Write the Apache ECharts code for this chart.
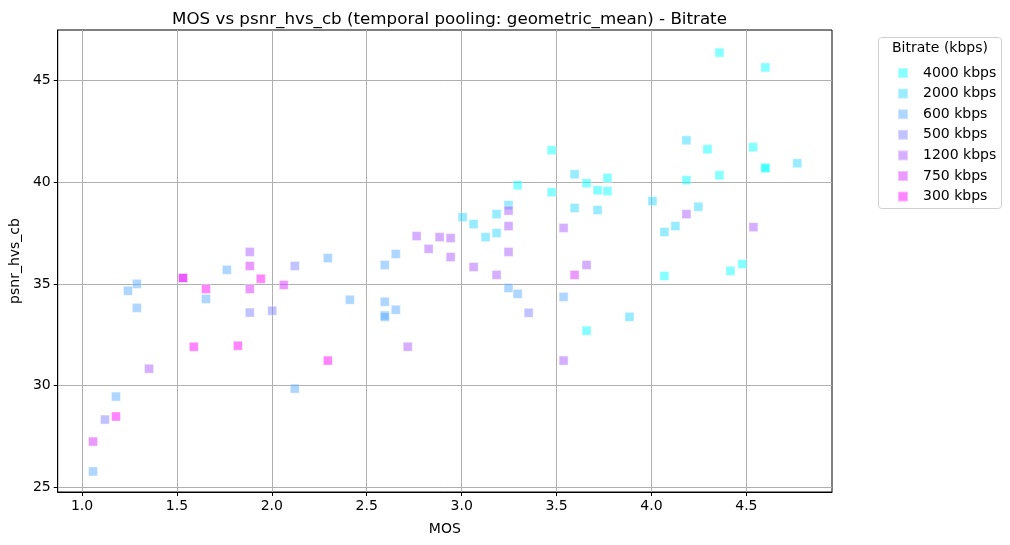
<!DOCTYPE html>
<html><head><meta charset="utf-8">
<script src="https://cdn.jsdelivr.net/npm/echarts@6/dist/echarts.min.js"></script>
<style>html,body{margin:0;padding:0;background:#fff}#c{width:1010px;height:545px}</style>
</head><body><div id="c"></div>
<script>
const seriesNames = ['4000 kbps','2000 kbps','600 kbps','500 kbps','1200 kbps','750 kbps','300 kbps'];
const s4000 = [[3.474,41.57],[3.474,39.51],[3.295,39.85],[3.658,39.95],[3.768,40.21],[3.716,39.6],[3.768,39.56],[4.358,46.37],[4.6,45.64],[4.295,41.62],[4.535,41.72],[4.6,40.72],[4.6,40.68],[4.358,40.34],[4.184,40.10],[4.479,35.98],[4.416,35.64],[4.068,35.39],[3.658,32.7]];
const s2000 = [[3.595,40.39],[4.184,42.06],[4.768,40.93],[3.247,38.87],[3.595,38.73],[3.716,38.63],[3.005,38.28],[3.184,38.43],[3.063,37.94],[3.184,37.5],[3.126,37.3],[4.005,39.07],[4.247,38.79],[4.126,37.84],[4.068,37.55],[3.884,33.38]];
const s600 = [[1.058,25.78],[1.179,29.46],[2.121,29.85],[1.289,35.0],[1.242,34.66],[1.289,33.82],[1.653,34.26],[1.763,35.69],[2.295,36.27],[2.411,34.22],[2.653,36.47],[2.595,35.93],[3.247,34.8],[3.295,34.51],[3.537,34.36],[2.595,34.12],[2.653,33.73],[2.595,33.45],[2.595,33.38]];
const s500 = [[1.121,28.33],[1.884,33.59],[2.002,33.68],[2.121,35.88],[3.353,33.58]];
const s1200 = [[1.884,36.57],[1.532,35.29],[1.353,30.83],[2.763,37.35],[2.884,37.30],[2.942,37.25],[2.826,36.72],[2.942,36.32],[3.247,36.57],[3.063,35.83],[3.658,35.93],[3.184,35.44],[3.247,37.84],[3.537,37.75],[3.247,38.6],[2.716,31.91],[3.537,31.23],[4.184,38.43],[4.537,37.79]];
const s750 = [[1.058,27.25],[1.884,35.88],[1.884,34.75],[2.063,34.95],[3.595,35.44]];
const s300 = [[1.532,35.29],[1.653,34.75],[1.942,35.25],[1.589,31.91],[1.821,31.96],[2.295,31.23],[1.179,28.48]];
const xTicks = [1.0,1.5,2.0,2.5,3.0,3.5,4.0,4.5];
const yTicks = [25,30,35,40,45];

const allData = [s4000,s2000,s600,s500,s1200,s750,s300];
const colors = ['rgba(0,255,255,0.6)','rgba(42,213,255,0.6)','rgba(85,170,255,0.6)','rgba(128,128,255,0.6)','rgba(170,85,255,0.6)','rgba(213,42,255,0.6)','rgba(255,0,255,0.6)'];
const FONT = 'DejaVu Sans';
const chart = echarts.init(document.getElementById('c'));
chart.setOption({
  animation:false,
  textStyle:{fontFamily:FONT},
  title:{text:'MOS vs psnr_hvs_cb (temporal pooling: geometric_mean) - Bitrate',left:444.5,textAlign:'center',top:6,
    textStyle:{fontFamily:FONT,fontWeight:'normal',fontSize:16.7,color:'#000'}},
  grid:{left:57,right:178,top:30,bottom:53,show:true,borderColor:'#000',borderWidth:1,backgroundColor:'transparent'},
  xAxis:{type:'value',min:0.872,max:4.951,
    name:'MOS',nameLocation:'middle',nameGap:30,nameTextStyle:{fontFamily:FONT,fontSize:14,color:'#000'},
    axisLine:{show:true,lineStyle:{color:'#000'}},
    axisTick:{show:true,length:4,lineStyle:{color:'#000'},customValues:xTicks},
    axisLabel:{fontFamily:FONT,fontSize:14,color:'#000',margin:7,customValues:xTicks,formatter:v=>v.toFixed(1)},
    splitLine:{show:true,lineStyle:{color:'#b0b0b0',width:1}}},
  yAxis:{type:'value',min:24.77,max:47.48,
    name:'psnr_hvs_cb',nameLocation:'middle',nameGap:33,nameTextStyle:{fontFamily:FONT,fontSize:14,color:'#000'},
    axisLine:{show:true,lineStyle:{color:'#000'}},
    axisTick:{show:true,length:4,lineStyle:{color:'#000'},customValues:yTicks},
    axisLabel:{fontFamily:FONT,fontSize:14,color:'#000',margin:7,customValues:yTicks},
    splitLine:{show:true,lineStyle:{color:'#b0b0b0',width:1}}},
  legend:{orient:'vertical',left:892,top:61,itemWidth:10,itemHeight:10,itemGap:6.6,icon:'rect',
    data:seriesNames,
    textStyle:{fontFamily:FONT,fontSize:14,color:'#000',lineHeight:14,padding:[0,0,0,10]}},
  graphic:[
    {type:'rect',shape:{x:878.5,y:37.5,width:123,height:171,r:3},style:{fill:'rgba(255,255,255,0.8)',stroke:'#d0d0d0',lineWidth:1},z:-1},
    {type:'text',x:940,y:48,style:{text:'Bitrate (kbps)',font:'14px "DejaVu Sans"',fill:'#000',textAlign:'center',textVerticalAlign:'middle'}}
  ],
  series: allData.map((d,i)=>({
    name:seriesNames[i],type:'scatter',symbol:'rect',symbolSize:9,data:d,
    itemStyle:{color:colors[i],borderColor:'rgba(255,255,255,0.5)',borderWidth:1}
  }))
});
</script></body></html>
